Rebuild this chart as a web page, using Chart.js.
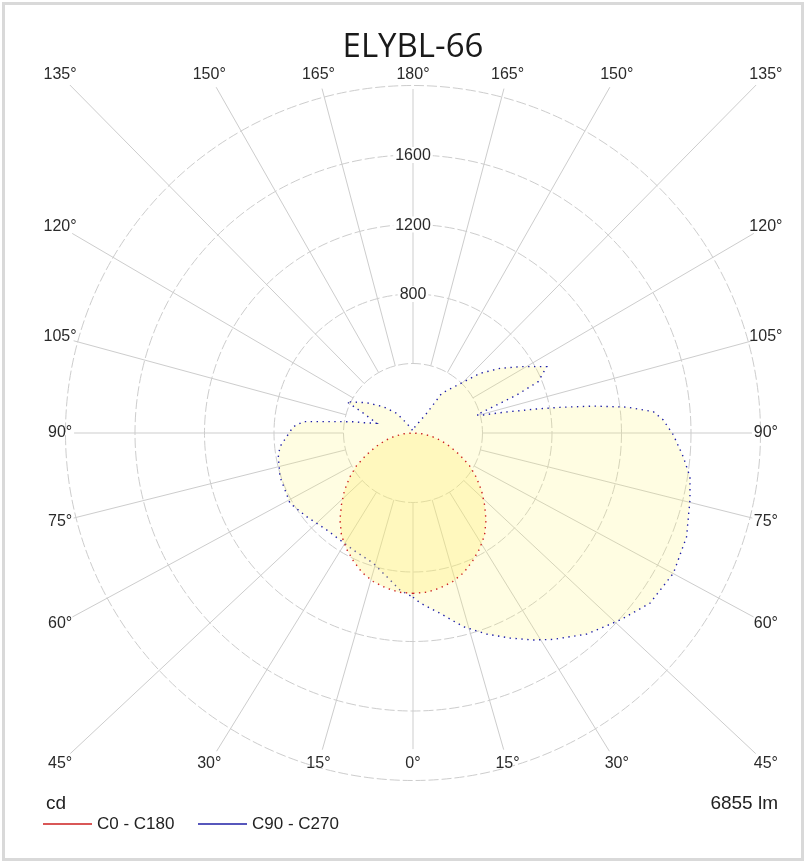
<!DOCTYPE html>
<html>
<head>
<meta charset="utf-8">
<title>ELYBL-66</title>
<script src="https://cdn.jsdelivr.net/npm/chart.js@4.4.1/dist/chart.umd.min.js"></script>
<style>
  html, body { margin: 0; padding: 0; background: #fff; }
  #wrap { position: relative; width: 806px; height: 863px; }
</style>
</head>
<body>
<div id="wrap"><canvas id="polarChart" width="806" height="863"></canvas></div>
<script>
// gamma angle from nadir (deg) and luminous intensity (cd)
const c0Angles = [0, 5, 10, 15, 20, 25, 30, 35, 40, 45, 50, 55, 60, 65, 70, 75, 80, 85, 90];
const c0Values = [923, 920, 905, 885, 855, 812, 768, 718, 654, 582, 515, 445, 375, 295, 225, 165, 108, 52, 0];
const c180Angles = [0, 5, 10, 15, 20, 25, 30, 35, 40, 45, 50, 55, 60, 65, 70, 75, 80, 85, 90];
const c180Values = [923, 920, 905, 885, 855, 812, 768, 718, 654, 582, 515, 445, 375, 295, 225, 165, 108, 52, 0];

const c90Angles = [0, 2.4, 8.5, 14.6, 20.1, 25.3, 30.1, 34.2, 40.8, 47.9, 54.3, 61.7, 69.2, 76.4, 81, 85,
  89.6, 93, 95.1, 96.9, 98.5, 99.9, 101, 102.9, 104.4, 105.8, 110.1, 112.3, 116.4, 121.8, 126.6, 131.7,
  144.1, 145.2, 162.4, 180];
const c90Values = [945, 979, 1049, 1152, 1232, 1305, 1377, 1436, 1529, 1606, 1679, 1702, 1684, 1640, 1614, 1561,
  1498, 1442, 1388, 1239, 1049, 859, 725, 533, 418, 381, 635, 779, 859, 725, 624, 516,
  282, 138, 38, 12];

const c270Angles = [0, 4.7, 16.9, 27, 41.7, 51.8, 60.3, 71.8, 80, 84.1, 93, 95.9, 97.8, 100.7, 101.7, 105,
  112.3, 115.3, 123.2, 131.5, 140.4, 147, 180];
const c270Values = [945, 907, 784, 756, 747, 779, 815, 806, 787, 770, 690, 635, 482, 350, 292, 216,
  319, 422, 318, 228, 147, 67, 12];

const ringValues = [400, 800, 1200, 1600, 2000];
const ringLabels = ['800', '1200', '1600'];
const angleTicks = [0, 15, 30, 45, 60, 75, 90, 105, 120, 135, 150, 165, 180];

const seriesNames = ['C0 - C180', 'C90 - C270'];
const seriesColors = ['#cc1f1f', '#1f1fa6'];
const unitLabel = 'cd';
const fluxLabel = '6855 lm';
const chartTitle = 'ELYBL-66';

// polar -> cartesian, nadir pointing down, side +1 right / -1 left
function toPoints(angles, values, side) {
  return angles.map((a, i) => {
    const g = a * Math.PI / 180;
    return { x: side * values[i] * Math.sin(g), y: -values[i] * Math.cos(g) };
  });
}

function closedCurve(rightA, rightV, leftA, leftV) {
  const right = toPoints(rightA, rightV, 1);
  const left = toPoints(leftA, leftV, -1).reverse();
  return right.concat(left);
}

const redCurve = closedCurve(c0Angles, c0Values, c180Angles, c180Values);
const blueCurve = closedCurve(c90Angles, c90Values, c270Angles, c270Values);

const RANGE = 2187;
const labelFrame = { side: 2031, top: 2060, bottom: 1900 };
const gridColor = '#cdcdcd';
const textFont = '"Liberation Sans", Arial, sans-serif';

function labelPositions(chart) {
  const { x, y } = chart.scales;
  const out = [];
  [1, -1].forEach(side => {
    angleTicks.forEach(a => {
      if (side < 0 && (a === 0 || a === 180)) return;
      const g = a * Math.PI / 180;
      const dx = side * Math.sin(g), dy = -Math.cos(g);
      const m = Math.max(Math.abs(dx), Math.abs(dy));
      const u = dx / m, v = dy / m;
      const X = u * labelFrame.side;
      const Y = v > 0 ? v * labelFrame.top : v * labelFrame.bottom;
      out.push({ text: a + '°', px: x.getPixelForValue(X), py: y.getPixelForValue(Y) });
    });
  });
  return out;
}

const polarGrid = {
  id: 'polarGrid',
  beforeDraw(chart) {
    const ctx = chart.ctx;
    ctx.save();
    ctx.fillStyle = '#ffffff';
    ctx.fillRect(0, 0, chart.width, chart.height);
    ctx.strokeStyle = '#d9d9d9';
    ctx.lineWidth = 3;
    ctx.strokeRect(3.5, 3.5, chart.width - 7, chart.height - 7);
    ctx.restore();
  },
  beforeDatasetsDraw(chart) {
    const { ctx, scales: { x, y } } = chart;
    const cx = x.getPixelForValue(0), cy = y.getPixelForValue(0);
    const rad = v => x.getPixelForValue(v) - cx;
    ctx.save();
    ctx.strokeStyle = gridColor;
    ctx.lineWidth = 1;
    ctx.setLineDash([10, 3]);
    ringValues.forEach(v => {
      ctx.beginPath();
      ctx.arc(cx, cy, rad(v), 0, Math.PI * 2);
      ctx.stroke();
    });
    ctx.setLineDash([]);
    const rIn = rad(ringValues[0]);
    labelPositions(chart).forEach(p => {
      const dx = p.px - cx, dy = p.py - cy;
      const d = Math.hypot(dx, dy);
      ctx.beginPath();
      ctx.moveTo(cx + dx / d * rIn, cy + dy / d * rIn);
      ctx.lineTo(cx + dx / d * (d - 14), cy + dy / d * (d - 14));
      ctx.stroke();
    });
    ctx.restore();
  },
  afterDatasetsDraw(chart) {
    const { ctx, scales: { x, y } } = chart;
    const cx = x.getPixelForValue(0);
    ctx.save();
    ctx.font = '16px ' + textFont;
    ctx.textAlign = 'center';
    ctx.textBaseline = 'middle';
    ringLabels.forEach(t => {
      const py = y.getPixelForValue(Number(t));
      const w = ctx.measureText(t).width;
      ctx.fillStyle = '#ffffff';
      ctx.fillRect(cx - w / 2 - 2, py - 8, w + 4, 16);
      ctx.fillStyle = '#2a2a2a';
      ctx.fillText(t, cx, py + 1);
    });
    labelPositions(chart).forEach(p => {
      ctx.fillStyle = '#2a2a2a';
      ctx.fillText(p.text, p.px, p.py);
    });
    ctx.restore();
  },
  afterDraw(chart) {
    const ctx = chart.ctx;
    ctx.save();
    ctx.fillStyle = '#1a1a1a';
    ctx.textAlign = 'center';
    ctx.textBaseline = 'alphabetic';
    ctx.font = '33px "Open Sans", sans-serif';
    ctx.fillText(chartTitle, 413, 57);

    ctx.font = '19px ' + textFont;
    ctx.textAlign = 'left';
    ctx.fillStyle = '#222';
    ctx.fillText(unitLabel, 46, 809);
    ctx.textAlign = 'right';
    ctx.fillText(fluxLabel, 778, 809);

    const xs = [43, 198];
    ctx.font = '17px ' + textFont;
    ctx.textAlign = 'left';
    ctx.textBaseline = 'middle';
    seriesNames.forEach((n, i) => {
      ctx.strokeStyle = seriesColors[i];
      ctx.lineWidth = 1.6;
      ctx.beginPath();
      ctx.moveTo(xs[i], 824);
      ctx.lineTo(xs[i] + 49, 824);
      ctx.stroke();
      ctx.fillStyle = '#222';
      ctx.fillText(n, xs[i] + 54, 824);
    });
    ctx.restore();
  }
};

const ctx = document.getElementById('polarChart').getContext('2d');
new Chart(ctx, {
  type: 'line',
  data: {
    datasets: [
      {
        label: seriesNames[0],
        data: redCurve,
        borderColor: seriesColors[0],
        backgroundColor: 'rgba(255, 238, 105, 0.29)',
        borderWidth: 1.4,
        borderDash: [1.4, 4.5],
        fill: 'shape',
        pointRadius: 0,
        tension: 0
      },
      {
        label: seriesNames[1],
        data: blueCurve,
        borderColor: seriesColors[1],
        backgroundColor: 'rgba(255, 244, 110, 0.2)',
        borderWidth: 1.4,
        borderDash: [1.4, 4.5],
        fill: 'shape',
        pointRadius: 0,
        tension: 0
      }
    ]
  },
  options: {
    responsive: false,
    animation: false,
    layout: { padding: { left: 33, right: 13, top: 53, bottom: 50 } },
    scales: {
      x: { type: 'linear', min: -RANGE, max: RANGE, display: false },
      y: { type: 'linear', min: -RANGE, max: RANGE, display: false }
    },
    plugins: {
      legend: { display: false },
      tooltip: { enabled: false },
      title: { display: false }
    }
  },
  plugins: [polarGrid]
});
</script>
</body>
</html>
